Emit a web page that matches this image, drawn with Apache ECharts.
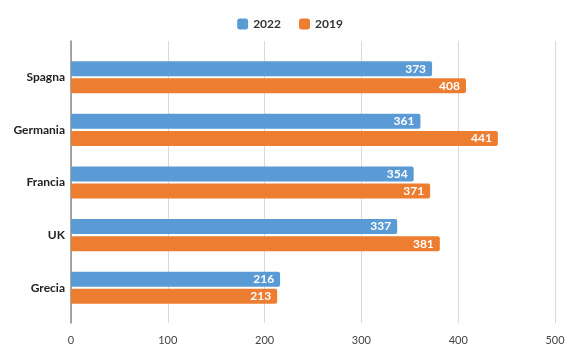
<!DOCTYPE html>
<html>
<head>
<meta charset="utf-8">
<script src="https://cdn.jsdelivr.net/npm/echarts@6/dist/echarts.min.js"></script>
<style>html,body{margin:0;padding:0;background:#fff}#c{width:580px;height:359px}</style>
</head>
<body>
<div id="c"></div>
<script>
const categories = ['Spagna', 'Germania', 'Francia', 'UK', 'Grecia'];
const seriesNames = ['2022', '2019'];
const values2022 = [373, 361, 354, 337, 216];
const values2019 = [408, 441, 371, 381, 213];
const xTicks = [0, 100, 200, 300, 400, 500];

const chart = echarts.init(document.getElementById('c'));
const font = 'Lato';
chart.setOption({
  animation: false,
  textStyle: { fontFamily: font },
  legend: {
    top: 13, left: 'center', itemWidth: 11, itemHeight: 11, itemGap: 18,
    icon: 'roundRect',
    textStyle: { fontFamily: font, fontWeight: 'bold', fontSize: 12, color: '#333' },
    data: seriesNames
  },
  grid: [
    { left: 71, right: 25, top: 41, bottom: 36 },
    { left: 71, right: 25, top: 51, bottom: 45 }
  ],
  xAxis: [
    { gridIndex: 0, type: 'value', min: xTicks[0], max: xTicks[xTicks.length - 1], interval: 100,
      axisLine: { show: false }, axisTick: { show: false },
      splitLine: { lineStyle: { color: '#d9d9d9', width: 1 } },
      axisLabel: { color: '#444', fontSize: 11, fontFamily: font, margin: 12 } },
    { gridIndex: 1, type: 'value', min: xTicks[0], max: xTicks[xTicks.length - 1], interval: 100,
      show: false, splitLine: { show: false } }
  ],
  yAxis: [
    { gridIndex: 0, type: 'value', min: 0, max: 1, show: true,
      axisLine: { show: true, lineStyle: { color: '#8a8a8a', width: 1.5 } },
      axisTick: { show: false }, axisLabel: { show: false }, splitLine: { show: false } },
    { gridIndex: 1, type: 'category', data: categories, inverse: true,
      axisLine: { show: false }, axisTick: { show: false },
      axisLabel: { color: '#222', fontWeight: 'bold', fontSize: 12, fontFamily: font, margin: 6 } }
  ],
  series: [
    { name: seriesNames[0], type: 'bar', xAxisIndex: 1, yAxisIndex: 1, data: values2022,
      barWidth: 15, barGap: '14%',
      itemStyle: { color: '#5b9bd5', borderRadius: 2 },
      label: { show: true, position: 'insideRight', color: '#fff', fontWeight: 'bold', fontSize: 12, fontFamily: font, distance: 6 } },
    { name: seriesNames[1], type: 'bar', xAxisIndex: 1, yAxisIndex: 1, data: values2019,
      barWidth: 15, barGap: '14%',
      itemStyle: { color: '#ed7d31', borderRadius: 2 },
      label: { show: true, position: 'insideRight', color: '#fff', fontWeight: 'bold', fontSize: 12, fontFamily: font, distance: 6 } }
  ]
});
</script>
</body>
</html>
